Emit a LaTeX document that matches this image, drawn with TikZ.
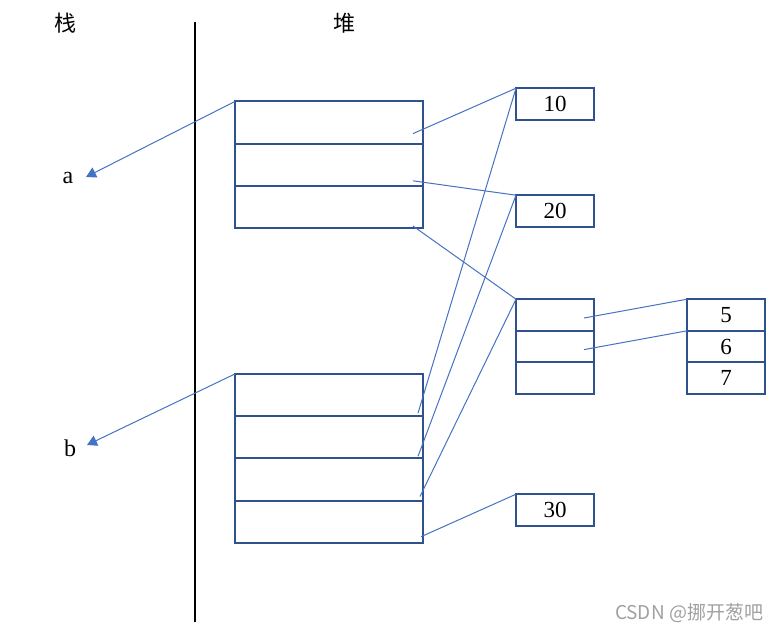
\documentclass[tikz,border=0pt]{standalone}
\usepackage{fontspec}
\setmainfont{Liberation Serif}
\newfontfamily\cjkfont{Noto Sans CJK SC}
\usepackage{xcolor}
\usetikzlibrary{positioning,arrows.meta,calc}
\definecolor{boxblue}{RGB}{47,82,143}
\definecolor{linkblue}{RGB}{68,114,196}
\definecolor{markgray}{RGB}{160,160,160}
\tikzset{
  rowbox/.style={draw=boxblue, line width=1pt, fill=white, outer sep=0pt, minimum width=94pt, minimum height=21.1pt},
  valbox/.style={draw=boxblue, line width=1pt, fill=white, outer sep=0pt, minimum width=39pt, minimum height=15.8pt, inner sep=0pt, font=\fontsize{11.5}{12}\selectfont},
  link/.style={linkblue, line width=0.5pt},
  ref/.style={-{Triangle[length=5pt,width=5.5pt]}, linkblue, line width=0.5pt},
  tag/.style={font=\fontsize{12}{13}\selectfont},
  zone/.style={font=\cjkfont\fontsize{11}{12}\selectfont}
}

\begin{document}
\begin{tikzpicture}[x=0.5pt, y=-0.5pt]
    \useasboundingbox (0,0) rectangle (779,634);
    % stack / heap divider
    \draw[black, line width=1pt] (195,22) -- (195,622);
    \node[zone] (stk) at (65,23) {栈};
    \node[zone] (heap) at (344,23) {堆};

    % objects on the heap
    \node[rowbox] (A1) at (329,122.5) {};
    \node[rowbox, below=0pt of A1] (A2) {};
    \node[rowbox, below=0pt of A2] (A3) {};

    \node[rowbox] (B1) at (329,395) {};
    \node[rowbox, below=0pt of B1] (B2) {};
    \node[rowbox, below=0pt of B2] (B3) {};
    \node[rowbox, below=0pt of B3] (B4) {};

    \node[valbox] (v10) at (555,104) {10};
    \node[valbox] (v20) at (555,211) {20};
    \node[valbox] (C1) at (555,315) {};
    \node[valbox, below=0pt of C1] (C2) {};
    \node[valbox, below=0pt of C2] (C3) {};
    \node[valbox] (v30) at (555,510) {30};

    \node[valbox] (v5) at (726,315) {5};
    \node[valbox, below=0pt of v5] (v6) {6};
    \node[valbox, below=0pt of v6] (v7) {7};

    % references on the stack
    \node[tag] (a) at (68,178) {a};
    \node[tag] (b) at (70,448) {b};
    \coordinate (aend) at (86,177);
    \coordinate (bend) at (87,445);
    \draw[ref] (A1.north west) -- (aend);
    \draw[ref] (B1.north west) -- (bend);

    % fields pointing to values
    \draw[link] ($(A1.south east)+(-10,-10)$) -- (v10.north west);
    \draw[link] ($(A2.south east)+(-10,-5)$) -- (v20.north west);
    \draw[link] ($(A3.south east)+(-10,-2)$) -- (C1.north west);
    \draw[link] ($(B1.south east)+(-5,-3)$) -- (v10.north west);
    \draw[link] ($(B2.south east)+(-5,-2)$) -- (v20.north west);
    \draw[link] ($(B3.south east)+(-3,-4)$) -- (C1.north west);
    \draw[link] ($(B4.south east)+(-2,-6)$) -- (v30.north west);
    \draw[link] ($(C1.center)+(29,3)$) -- (v5.north west);
    \draw[link] ($(C2.center)+(29,3)$) -- (v6.north west);

    \node[text=markgray, font=\cjkfont\fontsize{9.5}{10}\selectfont] (mark) at (689,613) {CSDN @挪开葱吧};
\end{tikzpicture}
\end{document}
